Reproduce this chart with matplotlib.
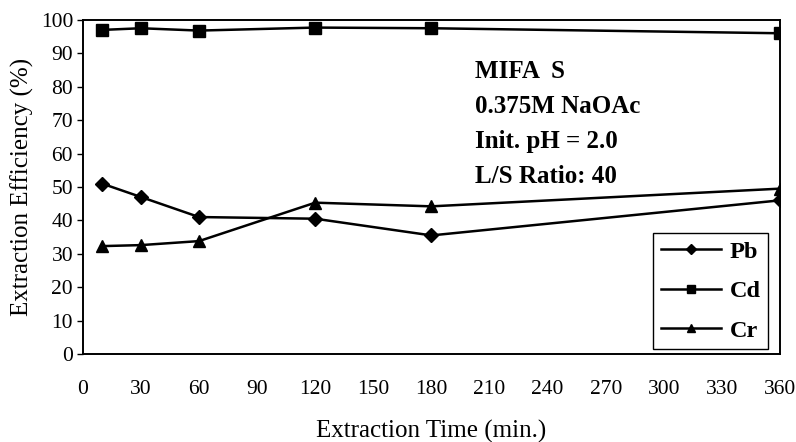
import matplotlib
matplotlib.use("Agg")
import matplotlib.pyplot as plt

# Extraction time (min.) and efficiency (%) for each metal
time_min = [10, 30, 60, 120, 180, 360]
pb = [51.0, 47.0, 41.0, 40.5, 35.5, 46.0]
cd = [97.0, 97.5, 96.8, 97.7, 97.5, 96.0]
cr = [32.3, 32.6, 33.8, 45.3, 44.2, 49.5]

x_ticks = list(range(0, 361, 30))
y_ticks = list(range(0, 101, 10))

conditions = ["MIFA  S", "0.375M NaOAc", "Init. pH = 2.0", "L/S Ratio: 40"]

plt.rcParams["font.family"] = ["Liberation Serif", "DejaVu Serif"]

fig = plt.figure(figsize=(7.96, 4.42), dpi=100)
ax = fig.add_axes([0.104, 0.199, 0.876, 0.756])

line_kw = dict(color="black", lw=1.8)
ax.plot(time_min, pb, marker="D", ms=7.5, label="Pb", **line_kw)
ax.plot(time_min, cd, marker="s", ms=8.5, label="Cd", **line_kw)
ax.plot(time_min, cr, marker="^", ms=9, label="Cr", **line_kw)

ax.set_xlim(0, 360)
ax.set_ylim(0, 100)
ax.set_xticks(x_ticks)
ax.set_yticks(y_ticks)
ax.tick_params(axis="x", length=0, pad=19, labelsize=15.5)
ax.tick_params(axis="y", length=4, width=1, direction="out", pad=3, labelsize=15.5)
for sp in ax.spines.values():
    sp.set_color("black")
    sp.set_linewidth(1.4)

ax.set_xlabel("Extraction Time (min.)", fontsize=18, labelpad=15)
ax.set_ylabel("Extraction Efficiency (%)", fontsize=18, labelpad=5)

y0 = 0.845
for i, txt in enumerate(conditions):
    ax.text(0.562, y0 - i * 0.105, txt, transform=ax.transAxes,
            fontsize=18, fontweight="bold", ha="left", va="center")

leg = ax.legend(loc="lower right", bbox_to_anchor=(0.983, 0.015),
                borderaxespad=0, fancybox=False, frameon=True,
                edgecolor="black", framealpha=1, handlelength=2.5,
                handletextpad=0.35, labelspacing=0.72, borderpad=0.3,
                markerscale=0.7, prop={"size": 17.5, "weight": "bold"})
leg.get_frame().set_linewidth(1.0)

fig.savefig("out.png", dpi=100)
